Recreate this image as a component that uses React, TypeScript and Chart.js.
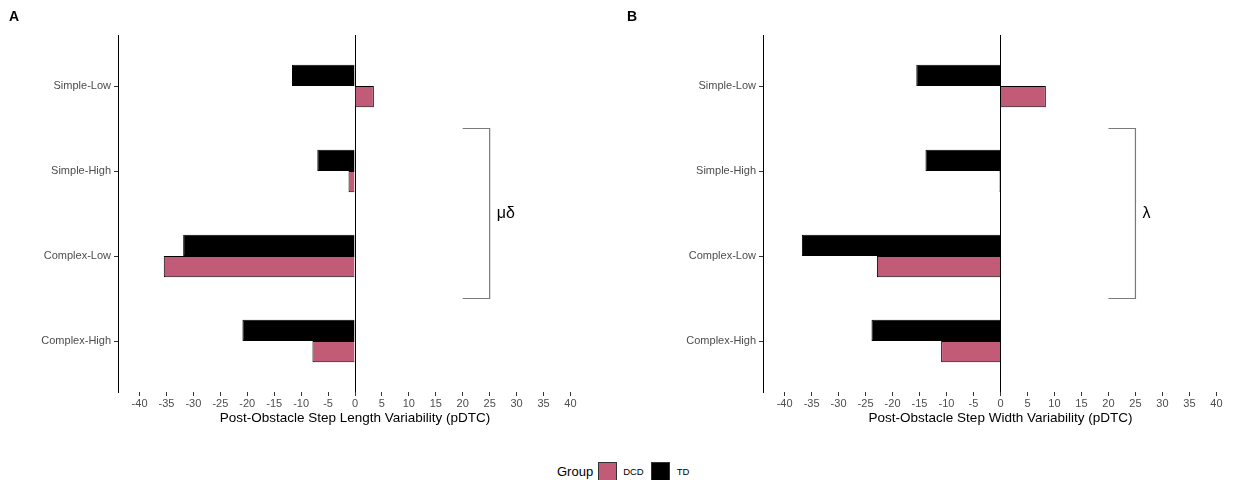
import React, { useEffect, useRef } from "react";
import { Chart, registerables } from "chart.js";

Chart.register(...registerables);

const categories = ["Simple-Low", "Simple-High", "Complex-Low", "Complex-High"];
const groupNames = ["DCD", "TD"];
const lengthTD = [-11.7, -7.0, -31.9, -20.9];
const lengthDCD = [3.5, -1.2, -35.5, -7.9];
const widthTD = [-15.6, -13.9, -36.8, -23.9];
const widthDCD = [8.4, -0.2, -22.9, -11.0];
const xLimits = [-44, 44];
const xStep = 5;
const bracketX = [20, 25];
const bracketCats = [0.5, 2.5];

const DCD_COLOR = "#C25B78";
const TD_COLOR = "#000000";
const FONT = "'Liberation Sans', Arial, Helvetica, sans-serif";

const bracketPlugin = {
  id: "bracket",
  afterDatasetsDraw(chart: any, _args: any, opts: any) {
    const { x, y } = chart.scales;
    const ctx = chart.ctx;
    const x1 = x.getPixelForValue(bracketX[0]);
    const x2 = x.getPixelForValue(bracketX[1]);
    const y1 = y.getPixelForValue(bracketCats[0]);
    const y2 = y.getPixelForValue(bracketCats[1]);
    ctx.save();
    ctx.strokeStyle = "#7a7a7a";
    ctx.lineWidth = 1.2;
    ctx.beginPath();
    ctx.moveTo(x1, y1);
    ctx.lineTo(x2, y1);
    ctx.lineTo(x2, y2);
    ctx.lineTo(x1, y2);
    ctx.stroke();
    ctx.fillStyle = "#000";
    ctx.font = `16px ${FONT}`;
    ctx.textAlign = "left";
    ctx.textBaseline = "middle";
    ctx.fillText(opts.label || "", x2 + 7, (y1 + y2) / 2);
    ctx.restore();
  },
};

type PanelProps = {
  td: number[];
  dcd: number[];
  title: string;
  label: string;
  width: number;
  axisWidth: number;
  padRight: number;
};

function Panel({ td, dcd, title, label, width, axisWidth, padRight }: PanelProps) {
  const ref = useRef<HTMLCanvasElement | null>(null);
  useEffect(() => {
    if (!ref.current) return;
    const chart = new Chart(ref.current, {
      type: "bar",
      data: {
        datasets: [
          {
            label: "TD",
            data: td.map((v, i) => ({ x: v, y: i })),
            backgroundColor: TD_COLOR,
            borderColor: "#000",
            borderWidth: 1,
            categoryPercentage: 0.5,
            barPercentage: 1,
          },
          {
            label: "DCD",
            data: dcd.map((v, i) => ({ x: v, y: i })),
            backgroundColor: DCD_COLOR,
            borderColor: "#000",
            borderWidth: 1,
            categoryPercentage: 0.5,
            barPercentage: 1,
          },
        ],
      },
      options: {
        indexAxis: "y",
        animation: false,
        responsive: false,
        layout: { padding: { top: 35, right: padRight, bottom: 14, left: 0 } },
        plugins: {
          legend: { display: false },
          tooltip: { enabled: false },
          bracket: { label },
        } as any,
        scales: {
          x: {
            type: "linear",
            min: xLimits[0],
            max: xLimits[1],
            ticks: {
              stepSize: xStep,
              includeBounds: false,
              color: "#4d4d4d",
              font: { family: FONT, size: 11 },
              padding: 1,
              maxRotation: 0,
              autoSkip: false,
            },
            grid: {
              color: (c: any) => (c.tick && c.tick.value === 0 ? "#000" : "rgba(0,0,0,0)"),
              tickColor: "#333",
              tickLength: 4,
              lineWidth: 1,
            },
            border: { display: false },
            title: {
              display: true,
              text: title,
              color: "#000",
              font: { family: FONT, size: 13.5 },
              padding: { top: 0, bottom: 0 },
            },
            afterFit: (s: any) => {
              s.height = 34;
            },
          },
          y: {
            type: "linear",
            reverse: true,
            offset: false,
            min: -0.6,
            max: categories.length - 1 + 0.6,
            ticks: {
              stepSize: 1,
              includeBounds: false,
              color: "#4d4d4d",
              font: { family: FONT, size: 11 },
              padding: 3,
              callback: (v: any) => (Number.isInteger(v) ? categories[v] ?? "" : ""),
            },
            grid: {
              offset: false,
              drawOnChartArea: false,
              tickColor: "#333",
              tickLength: 4,
            },
            border: { display: true, color: "#000", width: 1 },
            afterFit: (s: any) => {
              s.width = axisWidth;
            },
          },
        },
      },
      plugins: [bracketPlugin],
    } as any);
    return () => chart.destroy();
  }, []);
  return <canvas ref={ref} width={width} height={440} style={{ display: "block" }} />;
}

const swatch = (color: string) => (
  <span
    style={{
      width: 19,
      height: 19,
      background: color,
      border: "1px solid #333",
      boxSizing: "border-box",
      display: "inline-block",
    }}
  />
);

export default function App() {
  return (
    <div
      style={{
        position: "absolute",
        left: 0,
        top: 0,
        width: 1235,
        height: 480,
        background: "#fff",
        fontFamily: FONT,
        overflow: "hidden",
      }}
    >
      <div style={{ position: "absolute", left: 0, top: 0 }}>
        <Panel
          td={lengthTD}
          dcd={lengthDCD}
          title="Post-Obstacle Step Length Variability (pDTC)"
          label="μδ"
          width={617}
          axisWidth={118}
          padRight={25}
        />
      </div>
      <div style={{ position: "absolute", left: 617, top: 0 }}>
        <Panel
          td={widthTD}
          dcd={widthDCD}
          title="Post-Obstacle Step Width Variability (pDTC)"
          label="λ"
          width={625}
          axisWidth={146}
          padRight={4}
        />
      </div>
      <div style={{ position: "absolute", left: 9, top: 8, fontWeight: "bold", fontSize: 14 }}>A</div>
      <div style={{ position: "absolute", left: 627, top: 8, fontWeight: "bold", fontSize: 14 }}>B</div>
      <div
        style={{
          position: "absolute",
          left: 557,
          top: 462,
          height: 19,
          display: "flex",
          alignItems: "center",
          fontSize: 13,
          color: "#000",
        }}
      >
        <span style={{ marginRight: 5 }}>Group</span>
        {swatch(DCD_COLOR)}
        <span style={{ fontSize: 9.5, marginLeft: 6, marginRight: 7, color: "#000" }}>{groupNames[0]}</span>
        {swatch(TD_COLOR)}
        <span style={{ fontSize: 9.5, marginLeft: 7, color: "#000" }}>{groupNames[1]}</span>
      </div>
    </div>
  );
}
